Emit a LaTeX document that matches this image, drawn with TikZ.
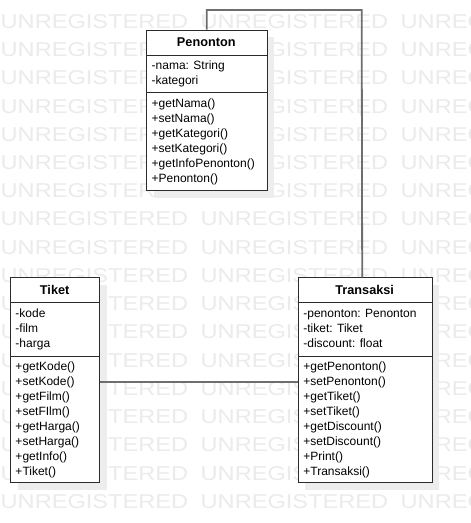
\documentclass[tikz,border=0pt]{standalone}
\usepackage{fontspec}
\setmainfont{Liberation Sans}
\newfontfamily\wmfont[FakeStretch=1.18]{Liberation Sans}
\usetikzlibrary{shadows}
\definecolor{wmc}{HTML}{EBEBEB}
\definecolor{shc}{HTML}{EDEDED}
\definecolor{bordc}{HTML}{2B2B2B}
\definecolor{connc}{HTML}{6E6E6E}
\begin{document}
\begin{tikzpicture}[x=1pt,y=-1pt,
  wm/.style={anchor=base west, inner sep=0pt, text=wmc, font=\wmfont\fontsize{20}{20}\selectfont},
  classbox/.style={draw=bordc, line width=1pt, fill=white, anchor=north west, inner sep=0pt,
    drop shadow={shadow xshift=7pt, shadow yshift=-7pt, fill=shc, opacity=1}},
  sepline/.style={draw=bordc, line width=1pt},
  conn/.style={draw=connc, line width=1.8pt},
  txt/.style={anchor=base west, inner sep=0pt, font=\fontsize{12}{15}\selectfont},
  head/.style={anchor=base, inner sep=0pt, font=\bfseries\fontsize{12.7}{15}\selectfont}]
\useasboundingbox (0,0) rectangle (471,523);
\fill[white] (0,0) rectangle (471,523);
% watermark
\begin{scope}
\clip (0,0) rectangle (471,523);
\foreach \i in {0,...,17}{
  \foreach \j in {0,1,2}{
    \node[wm] (wm-\i-\j) at ({0.5+200*\j},{28.3+28.24*\i}) {UNREGISTERED};
  }
}
\end{scope}
% boxes
\node[classbox, minimum width=120.5pt, minimum height=160.5pt] (pen) at (146,29.5) {};
\node[classbox, minimum width=89.3pt, minimum height=205pt] (tik) at (10,277.3) {};
\node[classbox, minimum width=134pt, minimum height=205pt] (tra) at (297.7,277.3) {};
% separators
\draw[sepline] (146,55) -- (266.5,55);
\draw[sepline] (146,92.7) -- (266.5,92.7);
\draw[sepline] (10,302.7) -- (99.3,302.7);
\draw[sepline] (10,356) -- (99.3,356);
\draw[sepline] (297.7,302.7) -- (431.7,302.7);
\draw[sepline] (297.7,356) -- (431.7,356);
% headers
\node[head] (pen-h) at (206.25,46.5) {Penonton};
\node[head] (tik-h) at (54.65,294.3) {Tiket};
\node[head] (tra-h) at (364.7,294.3) {Transaksi};
% Penonton
\foreach \t [count=\k from 0] in {-nama: String,-kategori}
  \node[txt] (pen-a\k) at (151.5,{69.3+15*\k}) {\t};
\foreach \t [count=\k from 0] in {+getNama(),+setNama(),+getKategori(),+setKategori(),+getInfoPenonton(),+Penonton()}
  \node[txt] (pen-m\k) at (151.5,{107+15*\k}) {\t};
% Tiket
\foreach \t [count=\k from 0] in {-kode,-film,-harga}
  \node[txt] (tik-a\k) at (15.3,{317+15*\k}) {\t};
\foreach \t [count=\k from 0] in {+getKode(),+setKode(),+getFilm(),+setFIlm(),+getHarga(),+setHarga(),+getInfo(),+Tiket()}
  \node[txt] (tik-m\k) at (15.3,{370.3+15*\k}) {\t};
% Transaksi
\foreach \t [count=\k from 0] in {-penonton: Penonton,-tiket: Tiket,-discount: float}
  \node[txt] (tra-a\k) at (303.2,{317+15*\k}) {\t};
\foreach \t [count=\k from 0] in {+getPenonton(),+setPenonton(),+getTiket(),+setTiket(),+getDiscount(),+setDiscount(),+Print(),+Transaksi()}
  \node[txt] (tra-m\k) at (303.2,{370.3+15*\k}) {\t};
% connectors
\coordinate (top) at (361.7,10);
\draw[conn] (pen.north) |- (top) -- ([xshift=-3pt]tra.north);
\draw[conn] ([yshift=-1.9pt]tik.east) -- ([yshift=-1.9pt]tra.west);
\end{tikzpicture}
\end{document}
